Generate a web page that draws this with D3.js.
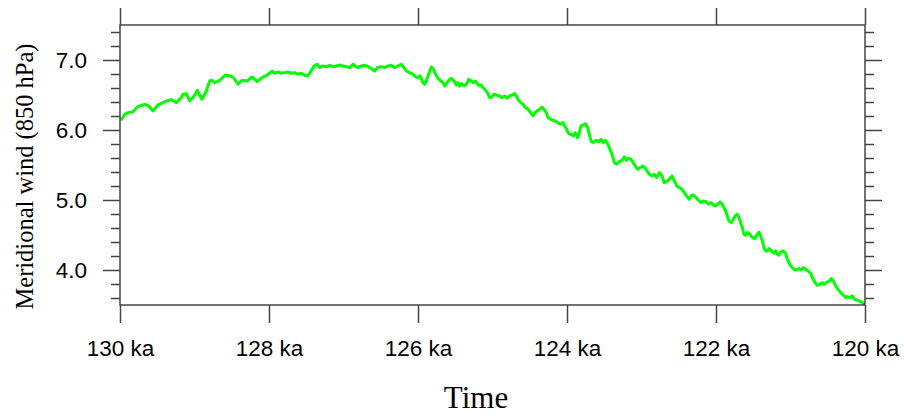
<!DOCTYPE html>
<html>
<head>
<meta charset="utf-8">
<script src="https://cdn.jsdelivr.net/npm/d3@7"></script>
<style>
  html, body { margin: 0; padding: 0; background: #fff; }
  svg { display: block; }
</style>
</head>
<body>
<svg id="chart" width="904" height="419"></svg>
<script>
// ---- data (time in ka, meridional wind at 850 hPa) ----
const time = [
129.980,129.937,129.893,129.826,129.767,129.736,129.669,129.615,129.557,129.490,129.423,129.378,129.311,129.244,129.177,129.154,129.110,129.065,129.020,128.962,128.917,128.899,128.841,128.796,128.765,128.729,128.662,128.586,128.514,128.470,128.416,128.362,128.291,128.228,128.157,128.094,128.022,127.955,
127.924,127.879,127.835,127.790,127.745,127.700,127.655,127.611,127.566,127.521,127.485,127.454,127.423,127.387,127.351,127.320,127.275,127.230,127.186,127.141,127.096,127.051,127.007,126.962,126.917,126.872,126.841,126.805,126.761,126.716,126.671,126.626,126.582,126.546,126.501,126.447,126.403,126.358,126.313,126.268,126.224,126.188,126.157,126.112,126.067,126.036,126.000,125.973,
125.964,125.933,125.911,125.889,125.857,125.821,125.799,125.767,125.732,125.696,125.664,125.642,125.620,125.588,125.553,125.517,125.485,125.463,125.441,125.418,125.383,125.351,125.320,125.293,125.262,125.230,125.204,125.172,125.150,125.128,125.105,125.069,125.038,125.007,124.980,124.949,124.904,124.872,124.837,124.801,124.770,124.738,124.702,124.680,124.658,124.622,124.591,124.559,124.523,124.488,124.456,124.434,124.398,124.367,124.336,124.309,124.277,124.255,124.219,124.188,124.157,124.121,124.085,124.054,124.031,124.009,123.987,123.964,
123.946,123.915,123.888,123.857,123.834,123.812,123.781,123.754,123.723,123.700,123.678,123.647,123.611,123.575,123.544,123.512,123.486,123.454,123.432,123.396,123.365,123.333,123.298,123.262,123.230,123.199,123.172,123.141,123.119,123.083,123.052,123.020,122.984,122.953,122.926,122.895,122.859,122.828,122.797,122.761,122.725,122.694,122.662,122.627,122.591,122.559,122.528,122.492,122.456,122.425,122.394,122.358,122.336,122.304,122.268,122.233,122.201,122.170,122.134,122.098,122.067,122.036,122.009,121.978,
121.946,121.915,121.893,121.870,121.848,121.826,121.794,121.768,121.736,121.714,121.691,121.669,121.647,121.624,121.602,121.579,121.544,121.512,121.481,121.454,121.423,121.401,121.378,121.356,121.334,121.311,121.289,121.266,121.244,121.222,121.199,121.177,121.154,121.132,121.096,121.065,121.043,121.020,120.989,120.953,120.917,120.886,120.855,120.828,120.797,120.765,120.730,120.707,120.676,120.640,120.604,120.573,120.550,120.515,120.483,120.452,120.425,120.394,120.362,120.327,120.291,120.260,120.237,120.201,120.170,120.139,120.112,120.081,120.049,120.013
];
const wind = [
6.153,6.224,6.248,6.262,6.329,6.343,6.367,6.343,6.272,6.358,6.391,6.415,6.434,6.391,6.462,6.510,6.520,6.415,6.462,6.567,6.472,6.439,6.558,6.700,6.710,6.677,6.710,6.786,6.772,6.739,6.653,6.710,6.700,6.758,6.691,6.748,6.786,6.843,
6.810,6.829,6.810,6.820,6.829,6.810,6.820,6.796,6.810,6.781,6.772,6.810,6.867,6.924,6.939,6.891,6.915,6.905,6.924,6.905,6.915,6.929,6.915,6.905,6.891,6.939,6.915,6.891,6.915,6.924,6.905,6.877,6.843,6.891,6.905,6.891,6.915,6.924,6.891,6.915,6.939,6.891,6.843,6.820,6.796,6.762,6.748,6.772,
6.758,6.677,6.653,6.700,6.796,6.900,6.881,6.805,6.739,6.700,6.677,6.629,6.662,6.710,6.739,6.700,6.643,6.677,6.629,6.662,6.629,6.653,6.724,6.710,6.677,6.700,6.662,6.629,6.643,6.605,6.581,6.534,6.462,6.472,6.510,6.500,6.486,6.462,6.486,6.453,6.486,6.500,6.520,6.486,6.439,6.391,6.367,6.320,6.296,6.248,6.200,6.248,6.272,6.296,6.329,6.296,6.248,6.177,6.153,6.139,6.129,6.105,6.081,6.105,6.058,6.024,5.962,5.939,
5.939,5.915,5.962,5.891,5.962,6.058,6.072,6.091,6.034,5.939,5.843,5.820,5.853,5.834,5.867,5.820,5.853,5.805,5.748,5.653,5.534,5.510,5.548,5.567,5.615,5.567,5.596,5.581,5.548,5.486,5.439,5.462,5.486,5.462,5.415,5.367,5.343,5.367,5.320,5.391,5.343,5.248,5.262,5.296,5.343,5.272,5.200,5.177,5.153,5.105,5.058,5.010,5.058,5.072,5.034,4.996,4.962,4.986,4.977,4.939,4.962,4.929,4.915,4.939,
4.972,4.939,4.891,4.843,4.772,4.700,4.677,4.724,4.781,4.796,4.748,4.677,4.605,4.510,4.496,4.534,4.510,4.462,4.448,4.496,4.543,4.486,4.415,4.320,4.272,4.272,4.305,4.286,4.258,4.239,4.272,4.224,4.210,4.258,4.272,4.239,4.153,4.105,4.048,4.010,4.000,4.020,4.000,4.034,4.010,3.986,3.953,3.891,3.829,3.781,3.796,3.820,3.796,3.820,3.843,3.877,3.843,3.772,3.724,3.677,3.639,3.605,3.620,3.605,3.629,3.581,3.572,3.558,3.543,3.524
];
const xDomain = [130, 120];
const yDomain = [3.5, 7.5];
const xTickValues = [130, 128, 126, 124, 122, 120];
const yTickValues = [4.0, 5.0, 6.0, 7.0];
const yMinorTickValues = [3.6, 3.8, 4.2, 4.4, 4.6, 4.8, 5.2, 5.4, 5.6, 5.8, 6.2, 6.4, 6.6, 6.8, 7.2, 7.4];
const xTitle = "Time";
const yTitle = "Meridional wind (850 hPa)";

// ---- layout ----
const L = 120, R = 865, T = 25, B = 305;
const axisColor = "#444";

const svg = d3.select("#chart");
const x = d3.scaleLinear().domain(xDomain).range([L, R]);
const y = d3.scaleLinear().domain(yDomain).range([B, T]);

function styleAxis(g) {
  g.select(".domain").remove();
  g.selectAll(".tick line").attr("stroke", axisColor).attr("stroke-width", 1.5);
}

// bottom axis with labels
svg.append("g")
  .attr("transform", `translate(0,${B})`)
  .call(d3.axisBottom(x).tickValues(xTickValues).tickSize(18).tickSizeOuter(0)
        .tickPadding(17).tickFormat(d => d + " ka"))
  .call(styleAxis)
  .call(g => g.selectAll("text").attr("font-family", "'Liberation Sans', Arial, sans-serif")
        .attr("font-size", 22.5).attr("fill", "#000"));

// top axis
svg.append("g")
  .attr("transform", `translate(0,${T})`)
  .call(d3.axisTop(x).tickValues(xTickValues).tickSize(17).tickSizeOuter(0).tickFormat(""))
  .call(styleAxis);

// left axis major
svg.append("g")
  .attr("transform", `translate(${L},0)`)
  .call(d3.axisLeft(y).tickValues(yTickValues).tickSize(17).tickSizeOuter(0)
        .tickPadding(16).tickFormat(d3.format(".1f")))
  .call(styleAxis)
  .call(g => g.selectAll("text").attr("font-family", "'Liberation Sans', Arial, sans-serif")
        .attr("font-size", 22.5).attr("fill", "#000"));
// left minor
svg.append("g")
  .attr("transform", `translate(${L},0)`)
  .call(d3.axisLeft(y).tickValues(yMinorTickValues).tickSize(9).tickSizeOuter(0).tickFormat(""))
  .call(styleAxis);

// right axis major + minor
svg.append("g")
  .attr("transform", `translate(${R},0)`)
  .call(d3.axisRight(y).tickValues(yTickValues).tickSize(17).tickSizeOuter(0).tickFormat(""))
  .call(styleAxis);
svg.append("g")
  .attr("transform", `translate(${R},0)`)
  .call(d3.axisRight(y).tickValues(yMinorTickValues).tickSize(9).tickSizeOuter(0).tickFormat(""))
  .call(styleAxis);

// clip
svg.append("clipPath").attr("id", "plotclip")
  .append("rect").attr("x", L).attr("y", T).attr("width", R - L).attr("height", B - T);

// line
const data = time.map((t, i) => ({ t, v: wind[i] }));
const line = d3.line().x(d => x(d.t)).y(d => y(d.v));
svg.append("path")
  .datum(data)
  .attr("clip-path", "url(#plotclip)")
  .attr("d", line)
  .attr("fill", "none")
  .attr("stroke", "#00ff00")
  .attr("stroke-width", 3)
  .attr("stroke-linejoin", "round")
  .attr("stroke-linecap", "round");

// frame
svg.append("rect")
  .attr("x", L).attr("y", T).attr("width", R - L).attr("height", B - T)
  .attr("fill", "none").attr("stroke", axisColor).attr("stroke-width", 1.5);

// titles
svg.append("text")
  .attr("x", 476).attr("y", 408)
  .attr("text-anchor", "middle")
  .attr("font-family", "'Liberation Serif', 'Times New Roman', serif")
  .attr("font-size", 31).attr("fill", "#000")
  .text(xTitle);

svg.append("text")
  .attr("transform", `translate(32.5,176.5) rotate(-90)`)
  .attr("text-anchor", "middle")
  .attr("font-family", "'Liberation Serif', 'Times New Roman', serif")
  .attr("font-size", 24.5).attr("fill", "#000")
  .text(yTitle);
</script>
</body>
</html>
